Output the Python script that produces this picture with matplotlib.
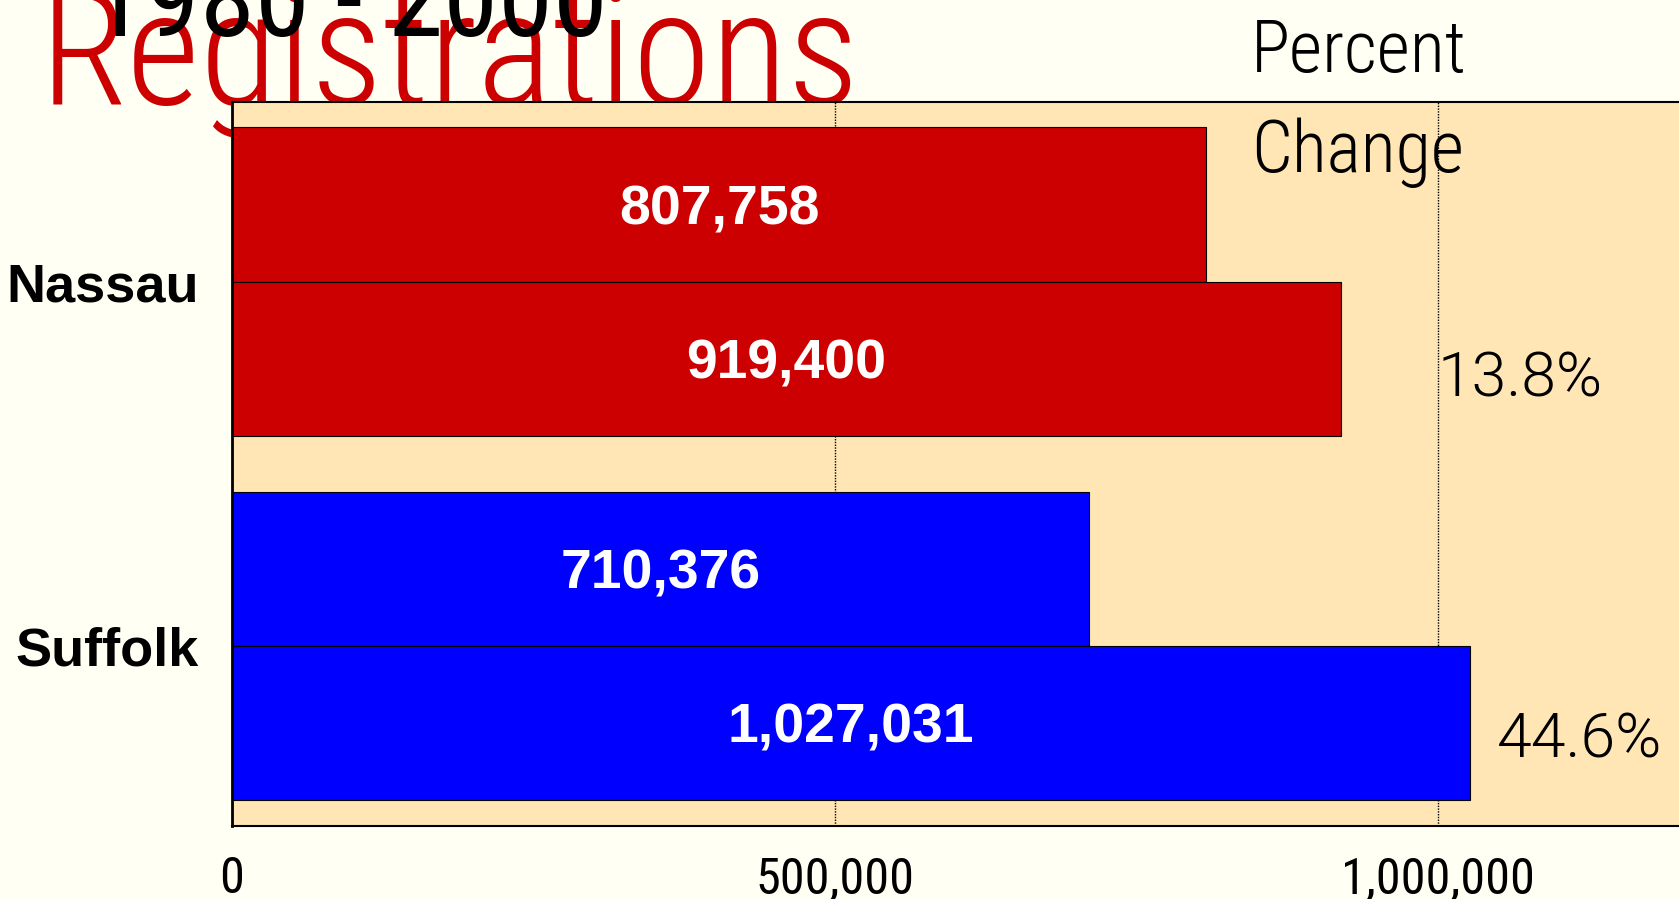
import matplotlib
matplotlib.use("Agg")
import matplotlib.pyplot as plt
from matplotlib.ticker import FuncFormatter

# data
counties = ["Nassau", "Suffolk"]
reg_1980 = [807758, 710376]
reg_2000 = [919400, 1027031]
pct_change = ["13.8%", "44.6%"]
x_ticks = [0, 500000, 1000000]

W, H = 1679, 899
COND = "Roboto Condensed"
BOLD = ["Liberation Sans", "DejaVu Sans"]

fig = plt.figure(figsize=(W / 100, H / 100), dpi=100, facecolor="#FFFFF3")
renderer = fig.canvas.get_renderer()


def fit_size(s, target_w, **kw):
    # font size that makes string s about target_w pixels wide
    t = fig.text(0, 0, s, fontsize=100, **kw)
    w = t.get_window_extent(renderer).width
    t.remove()
    return 100 * target_w / w


ax = fig.add_axes([232 / W, 1 - 826 / H, 1 - 232 / W, (826 - 102) / H])
ax.set_facecolor("#FFE6B4")

group_pos = [0, 2.364]
y80 = [g - 0.5 for g in group_pos]
y00 = [g + 0.5 for g in group_pos]
colors = ["#CC0000", "#0000FF"]

ax.barh(y80, reg_1980, height=1, color=colors, edgecolor="black",
        linewidth=0.8, zorder=2)
ax.barh(y00, reg_2000, height=1, color=colors, edgecolor="black",
        linewidth=0.8, zorder=2)

ax.set_xlim(0, 1200000)
ax.set_ylim(group_pos[1] + 1 + 0.169, -1 - 0.165)

val_size = fit_size("807,758", 200, family=BOLD, fontweight="bold")
for y, v in zip(y80 + y00, reg_1980 + reg_2000):
    ax.text(v / 2, y, f"{v:,}", color="white", fontsize=val_size,
            fontweight="bold", family=BOLD, ha="center",
            va="center_baseline", zorder=3)

# percent change labels, hand placed as in the original
pct_size = fit_size("13.8%", 165, family="Roboto", fontweight=300)
pct_left = [1438, 1497]
pct_base = [397, 757]
inv = ax.transData.inverted()
for i, p in enumerate(pct_change):
    xd, yd = inv.transform((pct_left[i], H - pct_base[i]))
    ax.text(xd, yd, p, fontsize=pct_size, family="Roboto",
            fontweight=300, ha="left", va="baseline", zorder=3)

ax.set_xticks(x_ticks)
ax.xaxis.set_major_formatter(FuncFormatter(lambda v, p: f"{int(v):,}"))
ax.set_yticks(group_pos)
ax.set_yticklabels(counties)
tick_size = fit_size("1,000,000", 193, family=COND)
ax.tick_params(axis="x", length=0, pad=21, labelsize=tick_size)
ax.tick_params(axis="y", length=0, pad=24, labelsize=39)
for lab in ax.get_xticklabels():
    lab.set_family(COND)
for lab in ax.get_yticklabels():
    lab.set_family(BOLD)
    lab.set_fontweight("bold")

ax.set_axisbelow(True)
ax.grid(axis="x", color="black", linestyle=(0, (1, 1)), linewidth=1)
ax.spines["right"].set_visible(False)
ax.spines["left"].set_linewidth(2)
for s in ["top", "bottom"]:
    ax.spines[s].set_linestyle((0, (1, 1)))
    ax.spines[s].set_linewidth(1.5)

# titles, behind the axes
t_size = fit_size("Registrations", 820, family=COND, fontweight=300)
fig.text(40 / W, 1 - 104 / H, "Registrations", color="#CC0000",
         fontsize=t_size, family=COND, fontweight=300, ha="left",
         va="baseline", zorder=-2)
y_size = fit_size("1980 - 2000", 518, family=COND)
fig.text(90 / W, 1 - 36 / H, "1980 - 2000", color="black",
         fontsize=y_size, family=COND, ha="left", va="baseline", zorder=-1)

# header of the percent column, under the grid line
h_size = fit_size("Percent", 216, family=COND, fontweight=300)
ax.text(1251 / W, 1 - 72 / H, "Percent", transform=fig.transFigure,
        fontsize=h_size, family=COND, fontweight=300, ha="left",
        va="baseline", zorder=0.3, clip_on=False)
ax.text(1251 / W, 1 - 172 / H, "Change", transform=fig.transFigure,
        fontsize=h_size, family=COND, fontweight=300, ha="left",
        va="baseline", zorder=0.3, clip_on=False)

fig.savefig("out.png", dpi=100, facecolor=fig.get_facecolor())
